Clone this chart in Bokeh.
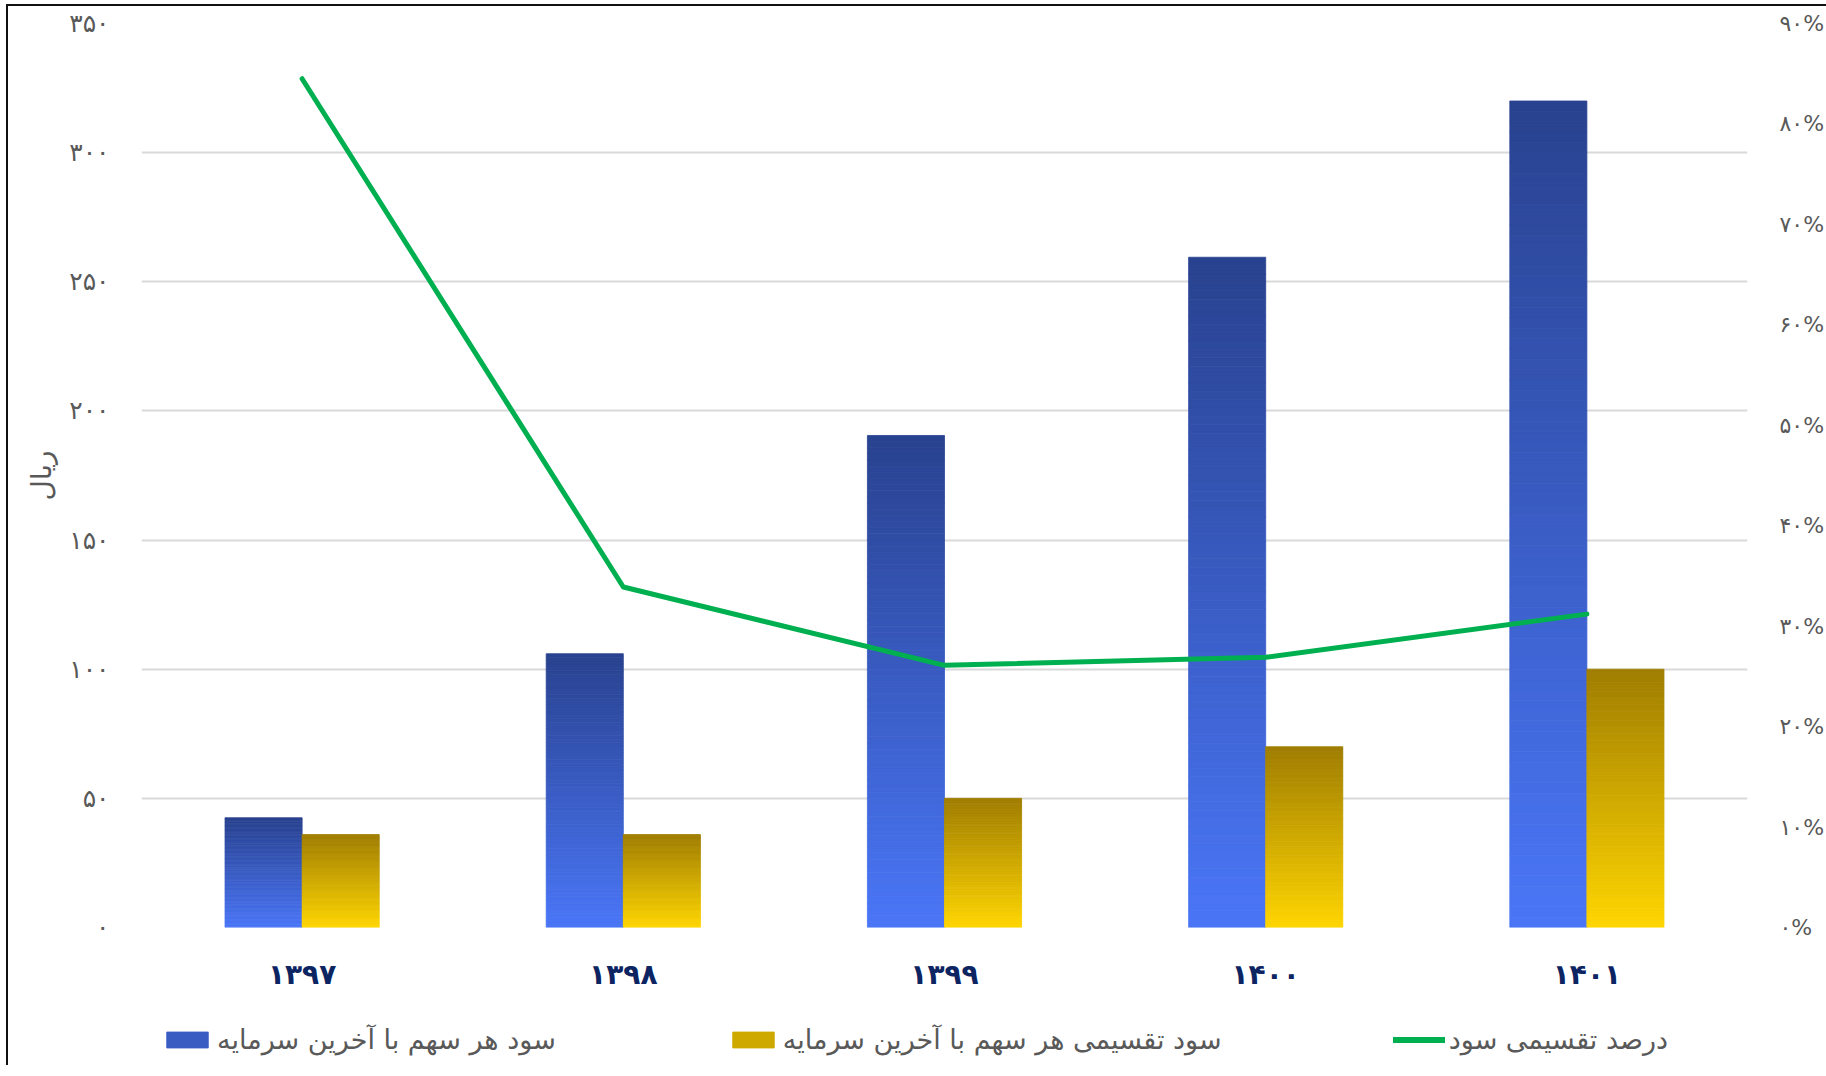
from bokeh.plotting import figure
from bokeh.layouts import column
from bokeh.models import (ColumnDataSource, Range1d, LinearAxis, FixedTicker,
                          Legend, LegendItem, FactorRange)
from bokeh.transform import dodge
from bokeh.embed import file_html
from bokeh.resources import INLINE

# ---------------- data ----------------
years = ["۱۳۹۷", "۱۳۹۸", "۱۳۹۹", "۱۴۰۰", "۱۴۰۱"]
eps = [42.5, 106.0, 190.5, 259.5, 320.0]        # سود هر سهم (ریال)
dps = [36.0, 36.0, 50.0, 70.0, 100.0]           # سود تقسیمی هر سهم (ریال)
payout = [84.5, 33.9, 26.1, 26.9, 31.2]         # درصد تقسیمی سود

left_ticks = [0, 50, 100, 150, 200, 250, 300, 350]
left_tick_labels = ["۰", "۵۰", "۱۰۰", "۱۵۰", "۲۰۰", "۲۵۰", "۳۰۰", "۳۵۰"]
right_ticks = [0, 10, 20, 30, 40, 50, 60, 70, 80, 90]
right_tick_labels = ["۰%", "۱۰%", "۲۰%", "۳۰%", "۴۰%", "۵۰%", "۶۰%", "۷۰%", "۸۰%", "۹۰%"]

series_names = ["سود هر سهم با آخرین سرمایه",
                "سود تقسیمی هر سهم با آخرین سرمایه",
                "درصد تقسیمی سود"]
y_title = "ریال"

# ---------------- styling ----------------
FONT = "DejaVu Sans"
GRAY = "#595959"
BLUE_TOP, BLUE_BOTTOM = (0x29, 0x42, 0x8f), (0x4a, 0x76, 0xf7)
GOLD_TOP, GOLD_BOTTOM = (0x9f, 0x7d, 0x00), (0xff, 0xd6, 0x00)
GREEN = "#00b050"
N_SLICES = 80
FIG_W = 1816


def hexcol(c):
    return "#%02x%02x%02x" % tuple(int(round(v)) for v in c)


def mix(top_c, bot_c, f):
    return tuple(bot_c[k] + (top_c[k] - bot_c[k]) * f for k in range(3))


def gradient_source(values, top_c, bot_c, n=N_SLICES):
    xs, bs, ts, cs = [], [], [], []
    for cat, v in zip(years, values):
        for i in range(n):
            f = (i + 0.5) / n
            xs.append(cat)
            bs.append(v * i / n)
            ts.append(v * (i + 1) / n)
            cs.append(hexcol(mix(top_c, bot_c, f)))
    return ColumnDataSource(dict(x=xs, bottom=bs, top=ts, color=cs))


src_blue = gradient_source(eps, BLUE_TOP, BLUE_BOTTOM)
src_gold = gradient_source(dps, GOLD_TOP, GOLD_BOTTOM)
src_line = ColumnDataSource(dict(x=years, y=payout))

# ---------------- main chart ----------------
p = figure(frame_width=1606, frame_height=904, output_backend="svg",
           toolbar_location=None,
           x_range=FactorRange(*years, range_padding=0, factor_padding=0),
           y_range=Range1d(0, 350),
           min_border_left=133, min_border_right=77, min_border_top=17,
           min_border_bottom=68)
p.extra_y_ranges = {"pct": Range1d(0, 90)}
p.outline_line_color = None
p.background_fill_color = "white"
p.border_fill_color = "white"

bar_kw = dict(width=0.24, bottom="bottom", top="top", fill_color="color",
              line_color="color", line_width=0.8)
p.vbar(x=dodge("x", -0.12, range=p.x_range), source=src_blue, **bar_kw)
p.vbar(x=dodge("x", 0.12, range=p.x_range), source=src_gold, **bar_kw)
p.line(x="x", y="y", source=src_line, y_range_name="pct",
       line_color=GREEN, line_width=5, line_cap="round", line_join="round")

# axes
p.yaxis.ticker = FixedTicker(ticks=left_ticks)
p.yaxis.major_label_overrides = {t: l for t, l in zip(left_ticks, left_tick_labels)}
p.yaxis.axis_label = y_title
p.yaxis.axis_label_text_font = FONT
p.yaxis.axis_label_text_font_style = "normal"
p.yaxis.axis_label_text_font_size = "28px"
p.yaxis.axis_label_text_color = GRAY
p.yaxis.axis_label_standoff = 8
p.yaxis.major_label_standoff = 26
p.yaxis.major_label_text_font_size = "25px"

ax_r = LinearAxis(y_range_name="pct", ticker=FixedTicker(ticks=right_ticks))
ax_r.major_label_overrides = {t: l for t, l in zip(right_ticks, right_tick_labels)}
ax_r.major_label_standoff = 26
ax_r.major_label_text_font_size = "22px"
p.add_layout(ax_r, "right")

for ax in (p.yaxis[0], ax_r):
    ax.axis_line_color = None
    ax.major_tick_line_color = None
    ax.minor_tick_line_color = None
    ax.major_label_text_font = FONT
    ax.major_label_text_color = GRAY

p.xaxis.axis_line_color = None
p.xaxis.major_tick_line_color = None
p.xaxis.minor_tick_line_color = None
p.xaxis.major_label_text_font = FONT
p.xaxis.major_label_text_font_size = "28px"
p.xaxis.major_label_text_font_style = "bold"
p.xaxis.major_label_text_color = "#0c2461"
p.xaxis.major_label_standoff = 24

p.xgrid.grid_line_color = None
p.ygrid.ticker = FixedTicker(ticks=left_ticks)
p.ygrid.grid_line_color = "#d9d9d9"
p.ygrid.grid_line_width = 1.8

# ---------------- legend strip (frame aligns with the chart's frame) ----------------
lg = figure(width=FIG_W, height=70, output_backend="svg", toolbar_location=None,
            x_range=FactorRange(*years, range_padding=0, factor_padding=0),
            y_range=Range1d(0, 350),
            x_axis_location=None, y_axis_location=None,
            min_border_left=0, min_border_right=0, min_border_top=18,
            min_border_bottom=0)
lg.extra_y_ranges = {"pct": Range1d(0, 90)}
lg.outline_line_color = None
lg.grid.grid_line_color = None
lg.background_fill_color = "white"
lg.border_fill_color = "white"

# hidden copies of the series, used only to draw the legend swatches
k_blue = lg.vbar(x="x", source=src_blue, visible=False, **bar_kw)
k_gold = lg.vbar(x="x", source=src_gold, visible=False, **bar_kw)
k_line = lg.line(x="x", y="y", source=src_line, y_range_name="pct", visible=False,
                 line_color=GREEN, line_width=6, line_cap="round")

legend = Legend(items=[
    LegendItem(label=series_names[0], renderers=[k_blue], index=N_SLICES // 2),
    LegendItem(label=series_names[1], renderers=[k_gold], index=N_SLICES // 2),
    LegendItem(label=series_names[2], renderers=[k_line]),
], orientation="horizontal", location="left", glyph_width=52, glyph_height=20,
    label_standoff=4, spacing=171, border_line_color=None, background_fill_alpha=0,
    label_text_font=FONT, label_text_font_size="27px", label_text_color=GRAY,
    padding=0, margin=20, click_policy="none")
lg.add_layout(legend, "center")

layout = column(p, lg, spacing=0,
                styles={"margin-left": "6px", "margin-top": "4px",
                        "border-left": "2px solid #111",
                        "border-top": "2px solid #111",
                        "background-color": "white"})

html = file_html(layout, INLINE)
html = html.replace("<body>", '<body style="background-color:#f3f4f6;">', 1)
open("out.html", "w").write(html)
